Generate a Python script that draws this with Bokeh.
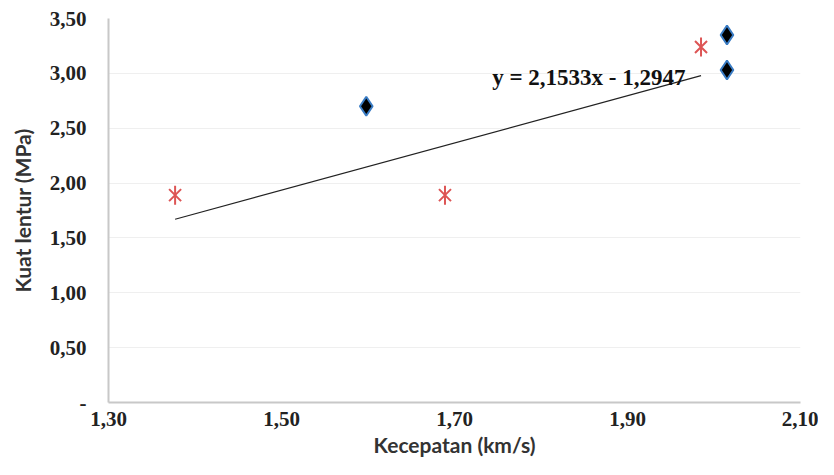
from bokeh.plotting import figure
from bokeh.models import FixedTicker, Label
from bokeh.embed import file_html
from bokeh.resources import INLINE

# Data
red_x = [1.377, 1.689, 1.985]
red_y = [1.89, 1.89, 3.24]
blue_x = [1.598, 2.015, 2.015]
blue_y = [2.70, 3.35, 3.03]

slope = 2.1533
intercept = -1.2947
trend_label = "y = 2,1533x - 1,2947"

x_ticks = [1.30, 1.50, 1.70, 1.90, 2.10]
x_tick_labels = ["1,30", "1,50", "1,70", "1,90", "2,10"]
y_ticks = [0.0, 0.5, 1.0, 1.5, 2.0, 2.5, 3.0, 3.5]
y_tick_labels = ["-", "0,50", "1,00", "1,50", "2,00", "2,50", "3,00", "3,50"]

x_title = "Kecepatan (km/s)"
y_title = "Kuat lentur (MPa)"

p = figure(width=818, height=459, output_backend="svg", toolbar_location=None,
           x_range=(1.30, 2.10), y_range=(0.0, 3.5),
           min_border_left=108, min_border_right=18, min_border_top=18, min_border_bottom=55)
p.outline_line_color = None
p.background_fill_color = "white"

# grid
p.xgrid.grid_line_color = None
p.ygrid.grid_line_color = "#efefef"
p.ygrid.grid_line_width = 1
p.ygrid.ticker = FixedTicker(ticks=y_ticks)

# axes
for ax in (p.xaxis[0], p.yaxis[0]):
    ax.axis_line_color = "#c8c8c8"
    ax.axis_line_width = 2
    ax.major_tick_line_color = None
    ax.minor_tick_line_color = None
    ax.major_tick_out = 0
    ax.major_tick_in = 0
    ax.major_label_text_font = "Liberation Serif"
    ax.major_label_text_font_style = "bold"
    ax.major_label_text_font_size = "21px"
    ax.major_label_text_color = "#222222"
    ax.axis_label_text_font = "Lato"
    ax.axis_label_text_font_style = "bold"
    ax.axis_label_text_font_size = "21px"
    ax.axis_label_text_color = "#333333"

p.xaxis[0].ticker = FixedTicker(ticks=x_ticks)
p.xaxis[0].major_label_overrides = {t: l for t, l in zip(x_ticks, x_tick_labels)}
p.xaxis[0].major_label_standoff = 9
p.xaxis[0].axis_label = x_title
p.xaxis[0].axis_label_standoff = 3

p.yaxis[0].ticker = FixedTicker(ticks=y_ticks)
p.yaxis[0].major_label_overrides = {t: l for t, l in zip(y_ticks, y_tick_labels)}
p.yaxis[0].major_label_standoff = 22
p.yaxis[0].axis_label = y_title
p.yaxis[0].axis_label_standoff = 12

# trend line over the red series range
lx = [min(red_x), max(red_x)]
ly = [slope * v + intercept for v in lx]
p.line(lx, ly, line_color="#222222", line_width=1.2)

# red asterisks (x + vertical bar)
p.scatter(red_x, red_y, marker="x", size=17, line_color="#dd5555", line_width=2)
p.scatter(red_x, red_y, marker="dash", angle=1.5708, size=19, line_color="#dd5555", line_width=2)

# blue-edged black diamonds
p.scatter(blue_x, blue_y, marker="diamond", size=19, fill_color="black",
          line_color="#3a7cc4", line_width=2)

p.add_layout(Label(x=1.7436, y=2.965, text=trend_label, text_font="Liberation Serif",
                   text_font_style="bold", text_font_size="23px", text_color="#111111",
                   text_baseline="middle", text_align="left"))

open("out.html", "w").write(file_html(p, INLINE))
